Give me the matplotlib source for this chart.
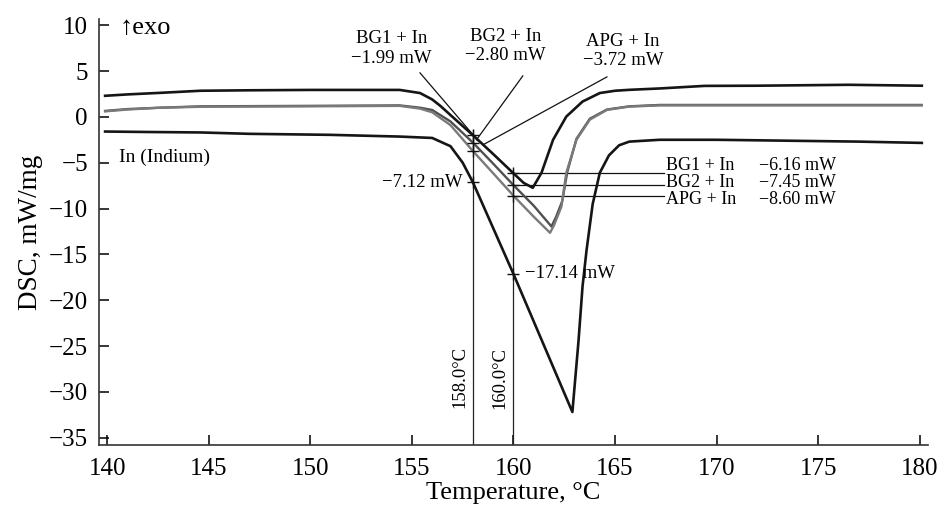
# Import libraries
import matplotlib.pyplot as plt

# Use a Times-like serif font
plt.rcParams["font.family"] = ["Liberation Serif", "DejaVu Serif"]

# DSC curve for BG1 + In (top black curve)
temp_bg1 = [139.9, 141.0, 142.6, 144.6, 147.0, 150.0, 154.4, 155.4, 156.0, 156.4,
            157.2, 158.0, 159.0, 160.0, 160.5, 160.95, 161.38, 161.95, 162.6, 163.4,
            164.25, 165.0, 165.7, 167.2, 169.4, 172.0, 176.5, 180.1]
dsc_bg1 = [2.3, 2.45, 2.62, 2.85, 2.9, 2.94, 2.94, 2.6, 1.9, 1.2,
           -0.4, -1.99, -4.05, -6.16, -7.2, -7.74, -6.1, -2.5, 0.03, 1.67,
           2.6, 2.85, 2.95, 3.1, 3.38, 3.4, 3.5, 3.4]

# DSC curve for BG2 + In (gray)
temp_bg2 = [139.9, 141.0, 142.6, 144.6, 150.0, 154.4, 155.4, 156.0, 156.9, 158.0,
            159.0, 160.0, 161.0, 161.87, 162.1, 162.4, 162.65, 163.1, 163.76, 164.6,
            165.7, 167.2, 170.0, 175.0, 180.1]
dsc_bg2 = [0.65, 0.85, 1.0, 1.15, 1.2, 1.25, 1.0, 0.75, -0.5, -2.80,
           -5.1, -7.45, -9.7, -11.96, -10.9, -9.2, -6.0, -2.4, -0.2, 0.8,
           1.15, 1.3, 1.3, 1.3, 1.3]

# DSC curve for APG + In (gray)
temp_apg = [139.9, 141.0, 142.6, 144.6, 150.0, 154.4, 155.4, 156.0, 156.9, 158.0,
            159.0, 160.0, 161.0, 161.8, 162.0, 162.36, 162.6, 163.1, 163.76, 164.6,
            165.7, 167.2, 170.0, 175.0, 180.1]
dsc_apg = [0.6, 0.8, 1.0, 1.1, 1.15, 1.2, 0.9, 0.5, -0.9, -3.72,
           -6.15, -8.60, -10.9, -12.65, -11.8, -9.8, -6.1, -2.5, -0.3, 0.76,
           1.12, 1.25, 1.25, 1.25, 1.25]

# DSC curve for pure indium (bottom black curve)
temp_in = [139.9, 142.0, 144.6, 147.0, 150.97, 154.4, 156.0, 156.9, 157.5, 158.0,
           160.0, 162.9, 163.2, 163.4, 163.6, 163.9, 164.25, 164.7, 165.2, 165.7,
           167.2, 170.0, 177.0, 180.1]
dsc_in = [-1.6, -1.65, -1.7, -1.85, -1.96, -2.15, -2.3, -3.2, -5.0, -7.12,
          -17.14, -32.2, -24.5, -18.5, -14.5, -9.5, -6.1, -4.2, -3.1, -2.7,
          -2.5, -2.5, -2.7, -2.84]

# Read-off values at 158 and 160 degrees
names = ["BG1 + In", "BG2 + In", "APG + In"]
values_158 = [-1.99, -2.80, -3.72]
values_160 = [-6.16, -7.45, -8.60]
indium_158 = -7.12
indium_160 = -17.14

# Axis ticks
x_ticks = [140, 145, 150, 155, 160, 165, 170, 175, 180]
y_ticks = [10, 5, 0, -5, -10, -15, -20, -25, -30, -35]

# Create the figure
fig = plt.figure(figsize=(9.43, 5.08), dpi=100)
ax = fig.add_axes([0.105, 0.124, 0.879, 0.839])

# Plot the curves
ax.plot(temp_bg1, dsc_bg1, color="#151515", linewidth=1.9, zorder=3)
ax.plot(temp_bg2, dsc_bg2, color="#505050", linewidth=1.7, zorder=3)
ax.plot(temp_apg, dsc_apg, color="#7a7a7a", linewidth=1.7, zorder=3)
ax.plot(temp_in, dsc_in, color="#151515", linewidth=1.9, zorder=3)

# Vertical guide lines at 158 and 160 degrees
ax.plot([158, 158], [-1.4, -35.8], color="#222222", linewidth=0.9)
ax.plot([160, 160], [-5.8, -35.8], color="#222222", linewidth=0.9)

# Horizontal guide lines from the 160 degree line to the labels
# (labels are spread a bit wider than the lines so they do not collide)
label_rows = [-5.34, -7.16, -8.97]
for name, value, row in zip(names, values_160, label_rows):
    ax.plot([160, 167.4], [value, value], color="#111111", linewidth=0.9)
    ax.text(167.5, row, name, fontsize=13, ha="left", va="center")
    ax.text(172.1, row, "\u2212{:.2f} mW".format(abs(value)),
            fontsize=13, ha="left", va="center")

# Cross markers at the read-off points
ax.plot([158] * 3, values_158, "+", color="#111111", markersize=8, mew=1, zorder=4)
ax.plot([160] * 3, values_160, "+", color="#111111", markersize=8, mew=1, zorder=4)
ax.plot([158, 160], [indium_158, indium_160], "+", color="#111111",
        markersize=8, mew=1, zorder=4)

# Labels for the 158 degree values with leader lines
label_x = [154.0, 159.6, 165.4]
label_y = [7.47, 7.74, 7.2]
line_start = [(155.4, 4.8), (160.46, 4.47), (164.6, 4.36)]
line_end = [(158.26, -2.6), (158.18, -2.5), (158.5, -3.05)]
for i in range(3):
    ax.text(label_x[i], label_y[i],
            names[i] + "\n\u2212{:.2f} mW".format(abs(values_158[i])),
            fontsize=13.5, ha="center", va="center", linespacing=1.2)
    ax.plot([line_start[i][0], line_end[i][0]], [line_start[i][1], line_end[i][1]],
            color="#111111", linewidth=0.9)

# Indium values
ax.text(157.5, indium_158, "\u22127.12 mW", fontsize=13.5, ha="right", va="center")
ax.text(160.55, indium_160, "\u221217.14 mW", fontsize=13.5, ha="left", va="center")

# Temperature labels on the vertical lines
ax.text(157.37, -28.4, "158.0\u00b0C", fontsize=13.5, rotation=90,
        ha="center", va="center")
ax.text(159.33, -28.5, "160.0\u00b0C", fontsize=13.5, rotation=90,
        ha="center", va="center")

# Other labels
ax.text(140.6, 9.7, "\u2191exo", fontsize=19, ha="left", va="center")
ax.text(140.6, -4.47, "In (Indium)", fontsize=14, ha="left", va="center")

# Axis setup
ax.set_xlim(139.6, 180.4)
ax.set_ylim(-35.8, 10.7)
ax.set_xticks(x_ticks)
ax.set_yticks(y_ticks)
ax.tick_params(direction="in", length=7, width=1.1, labelsize=18, pad=8)
ax.tick_params(axis="x", pad=9)
ax.spines["top"].set_visible(False)
ax.spines["right"].set_visible(False)
for side in ["left", "bottom"]:
    ax.spines[side].set_linewidth(1.2)
    ax.spines[side].set_color("#333333")
ax.set_xlabel("Temperature, \u00b0C", fontsize=19, labelpad=2)
ax.set_ylabel("DSC, mW/mg", fontsize=19.5, labelpad=4)

# Save the plot as a PNG file
fig.savefig("out.png", dpi=100)
